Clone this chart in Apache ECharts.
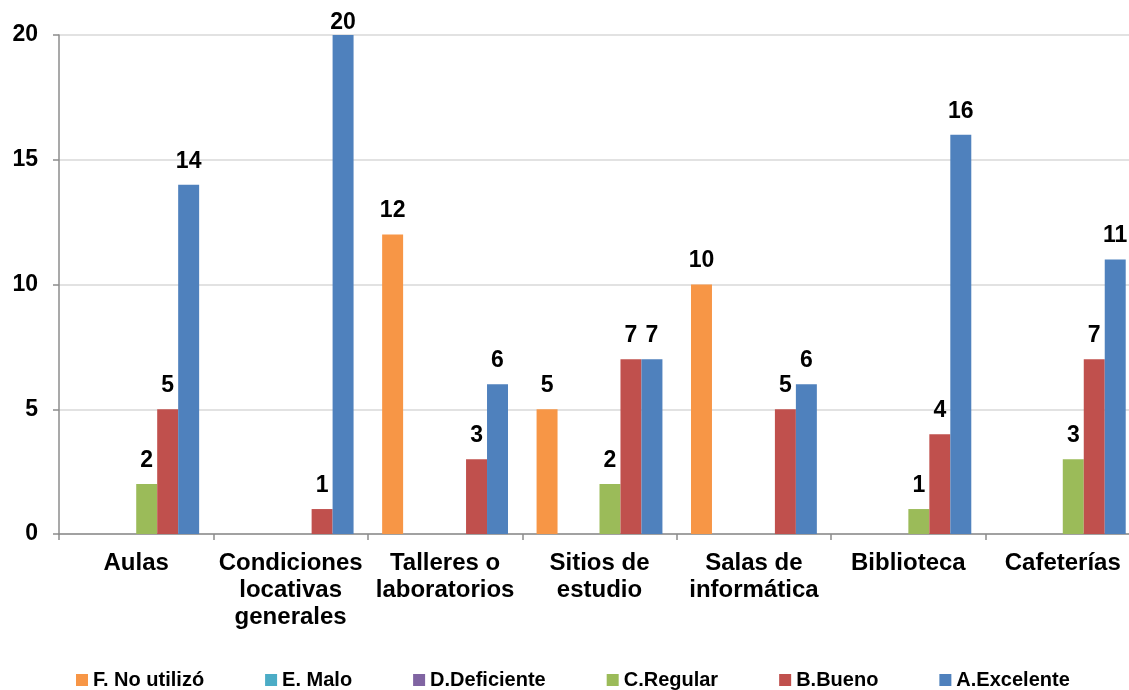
<!DOCTYPE html>
<html><head><meta charset="utf-8">
<script src="https://cdn.jsdelivr.net/npm/echarts@6/dist/echarts.min.js"></script>
<style>html,body{margin:0;padding:0;background:#fff;overflow:hidden;width:1129px;height:690px}#c{width:1143px;height:690px}</style>
</head><body><div id="c"></div>
<script>
const categories = ['Aulas', 'Condiciones\nlocativas\ngenerales', 'Talleres o\nlaboratorios', 'Sitios de\nestudio', 'Salas de\ninformática', 'Biblioteca', 'Cafeterías'];
const seriesNames = ['F. No utilizó', 'E. Malo', 'D.Deficiente', 'C.Regular', 'B.Bueno', 'A.Excelente'];
const colors = ['#F79646', '#4BACC6', '#8064A2', '#9BBB59', '#C0504D', '#4F81BD'];
const noUtilizo  = [0, 0, 12, 5, 10, 0, 0];
const malo       = [0, 0, 0, 0, 0, 0, 0];
const deficiente = [0, 0, 0, 0, 0, 0, 0];
const regular    = [2, 0, 0, 2, 0, 1, 3];
const bueno      = [5, 1, 3, 7, 5, 4, 7];
const excelente  = [14, 20, 6, 7, 6, 16, 11];
const yTicks = [0, 5, 10, 15, 20];

const values = [noUtilizo, malo, deficiente, regular, bueno, excelente];
const font = 'Liberation Sans, Arial, sans-serif';
const chart = echarts.init(document.getElementById('c'));
chart.setOption({
  animation: false,
  color: colors,
  grid: {left: 59, right: 3, top: 35, bottom: 156, containLabel: false},
  legend: {
    top: 665, left: 71, itemWidth: 12, itemHeight: 12, itemGap: 61,
    icon: 'rect',
    textStyle: {fontFamily: font, fontWeight: 'bold', fontSize: 20, color: '#000'},
    data: seriesNames
  },
  xAxis: {
    type: 'category', data: categories,
    axisLine: {lineStyle: {color: '#8c8c8c', width: 1.5}},
    axisTick: {show: true, length: 6, lineStyle: {color: '#8c8c8c', width: 1.5}},
    axisLabel: {interval: 0, margin: 16, fontFamily: font, fontWeight: 'bold', fontSize: 24, color: '#000', lineHeight: 27}
  },
  yAxis: {
    type: 'value', min: yTicks[0], max: yTicks[yTicks.length - 1], interval: 5,
    axisLine: {show: true, lineStyle: {color: '#8c8c8c', width: 1.5}},
    axisTick: {show: true, length: 6, lineStyle: {color: '#8c8c8c', width: 1.5}},
    splitLine: {lineStyle: {color: '#d9d9d9', width: 1.5}},
    axisLabel: {margin: 21, fontFamily: font, fontWeight: 'bold', fontSize: 23, color: '#000'}
  },
  series: seriesNames.map((n, i) => ({
    name: n, type: 'bar', data: values[i],
    barGap: '0%', barCategoryGap: '18.5%',
    itemStyle: {color: colors[i]},
    label: {
      show: true, position: 'top', distance: 12,
      fontFamily: font, fontWeight: 'bold', fontSize: 23, color: '#000',
      formatter: p => p.value === 0 ? '' : String(p.value)
    },
    labelLayout: p => (p.labelRect.y < 11 ? {dy: 11 - p.labelRect.y} : {})
  }))
});
</script></body></html>
